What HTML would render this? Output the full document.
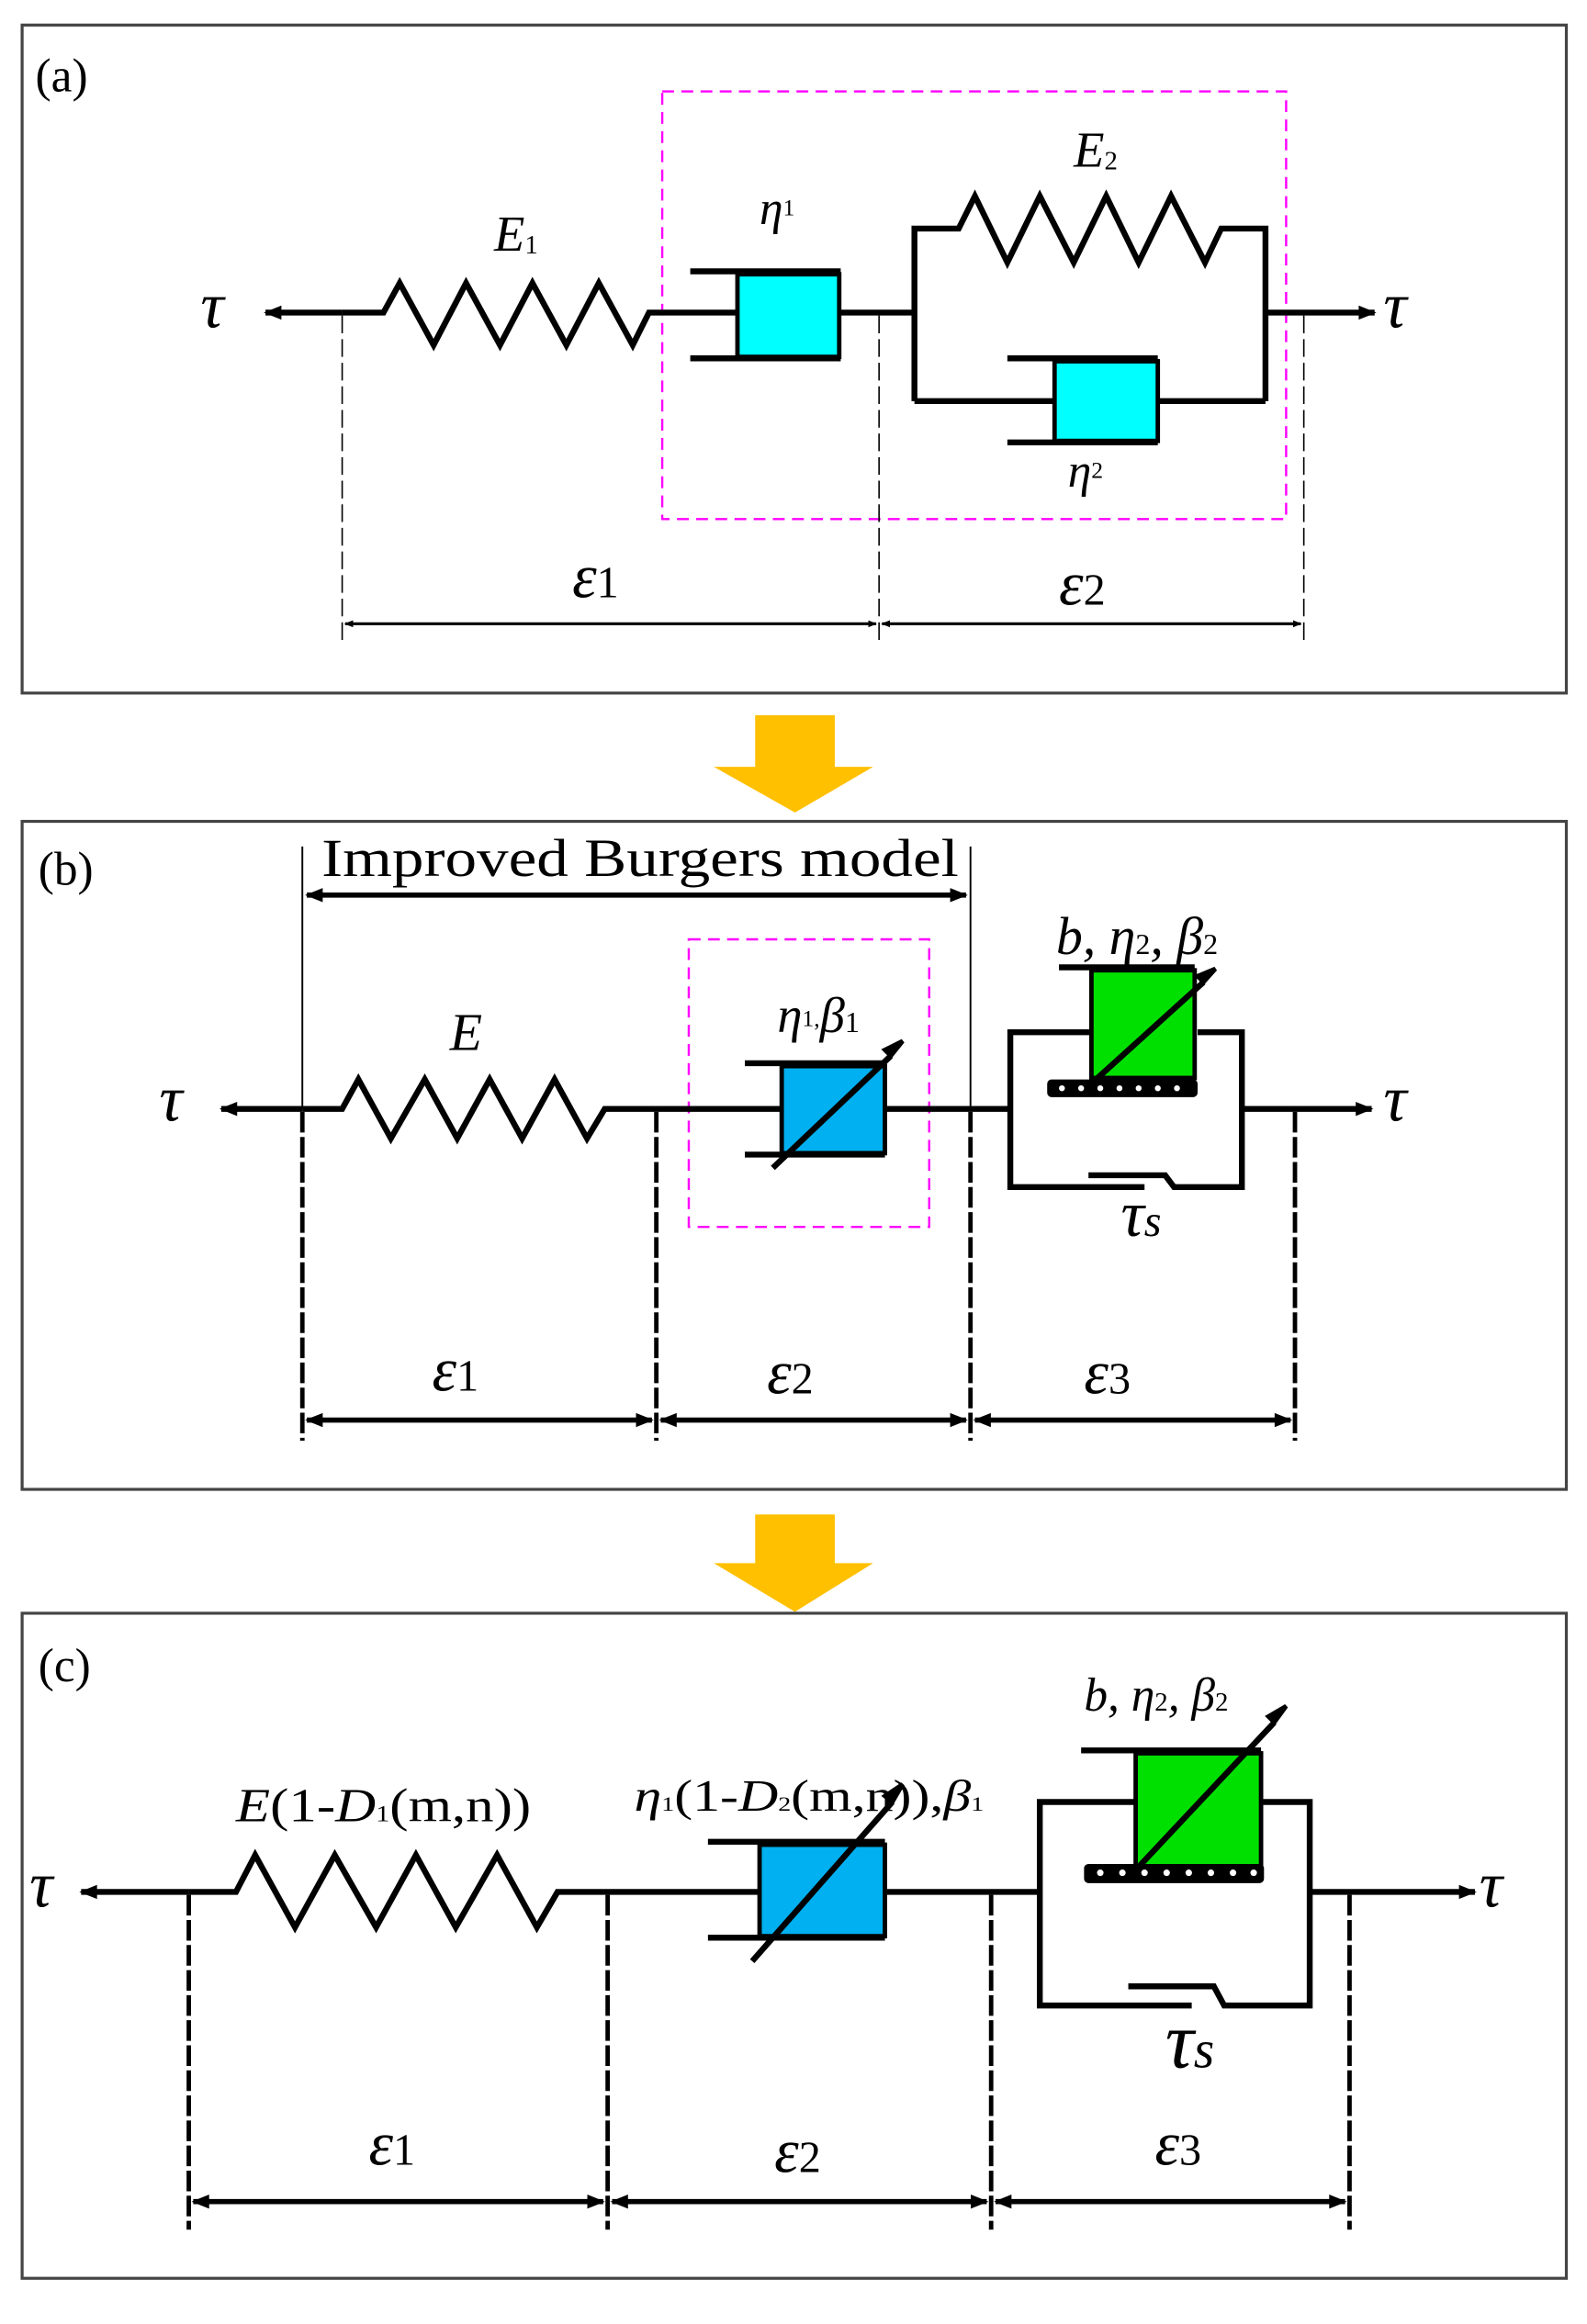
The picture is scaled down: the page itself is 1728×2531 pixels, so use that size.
<!DOCTYPE html>
<html><head><meta charset="utf-8"><style>
html,body{margin:0;padding:0;background:#fff;}
svg{display:block;font-family:"Liberation Serif",serif;}
svg text{font-family:"Liberation Serif",serif;fill:#000;}
.it{font-style:italic;}
</style></head><body>
<svg width="1728" height="2531" viewBox="0 0 1076 1576" preserveAspectRatio="none" xmlns="http://www.w3.org/2000/svg" font-family="Liberation Serif, serif">
<defs>
<marker id="ah" viewBox="0 0 10 10" refX="9" refY="5" markerWidth="6" markerHeight="6" orient="auto-start-reverse" markerUnits="userSpaceOnUse"><path d="M0,1 L10,5 L0,9 z" fill="#000"/></marker>
<marker id="ab" viewBox="0 0 10 10" refX="9" refY="5" markerWidth="16" markerHeight="12" orient="auto-start-reverse" markerUnits="userSpaceOnUse"><path d="M0,1 L10,5 L0,9 z" fill="#000"/></marker>
</defs>
<rect width="1076" height="1576" fill="#fff"/>

<!-- ============ PANEL A ============ -->
<rect x="15" y="17" width="1047" height="453" fill="none" stroke="#444" stroke-width="2"/>
<text x="24" y="62" font-size="32">(a)</text>
<rect x="449" y="62" width="423" height="290" fill="none" stroke="#f0f" stroke-width="1.5" stroke-dasharray="8,5"/>
<g stroke="#000" stroke-width="4" fill="none" stroke-linejoin="miter">
<line x1="232" y1="212" x2="180" y2="212" marker-end="url(#ab)"/>
<polyline points="232,212 260,212 271,192 294,234 316,192 339,234 361,192 384,234 406,192 429,234 440,212 500,212"/>
<line x1="468" y1="184" x2="570" y2="184"/>
<line x1="468" y1="243" x2="570" y2="243"/>
<line x1="570" y1="212" x2="620" y2="212"/>
<polyline points="620,272 620,155 650,155 661,133 683,178 705,133 728,178 750,133 772,178 794,133 817,178 828,155 858,155 858,272"/>
<line x1="620" y1="272" x2="715" y2="272"/>
<line x1="785" y1="272" x2="858" y2="272"/>
<line x1="683" y1="243" x2="785" y2="243"/>
<line x1="683" y1="300" x2="785" y2="300"/>
<line x1="858" y1="212" x2="932" y2="212" marker-end="url(#ab)"/>
</g>
<rect x="500" y="186" width="69" height="56" fill="#00ffff" stroke="#000" stroke-width="3"/>
<rect x="715" y="245" width="70" height="54" fill="#00ffff" stroke="#000" stroke-width="3"/>
<text x="136" y="222" font-size="44" class="it">τ</text>
<text x="938" y="222" font-size="44" class="it">τ</text>
<text x="335" y="170" font-size="34" class="it">E<tspan font-size="18" font-style="normal" dy="2">1</tspan></text>
<text x="515" y="152" font-size="32" class="it">η<tspan font-size="16" font-style="normal" dy="-6">1</tspan></text>
<text x="728" y="113" font-size="34" class="it">E<tspan font-size="18" font-style="normal" dy="2">2</tspan></text>
<text x="724" y="330" font-size="32" class="it">η<tspan font-size="16" font-style="normal" dy="-6">2</tspan></text>
<g stroke="#000" stroke-width="1" stroke-dasharray="12,4">
<line x1="232" y1="214" x2="232" y2="437"/>
<line x1="596" y1="214" x2="596" y2="437"/>
<line x1="884" y1="214" x2="884" y2="437"/>
</g>
<g stroke="#000" stroke-width="2">
<line x1="234" y1="423" x2="594" y2="423" marker-start="url(#ah)" marker-end="url(#ah)"/>
<line x1="598" y1="423" x2="882" y2="423" marker-start="url(#ah)" marker-end="url(#ah)"/>
</g>
<text x="388" y="405" font-size="42" class="it">ε<tspan font-size="30" font-style="normal">1</tspan></text>
<text x="718" y="410" font-size="42" class="it">ε<tspan font-size="30" font-style="normal">2</tspan></text>

<path d="M512,485 H566 V520 H592 L539,551 L484,520 H512 Z" fill="#ffc000"/>

<!-- ============ PANEL B ============ -->
<rect x="15" y="557" width="1047" height="453" fill="none" stroke="#444" stroke-width="2"/>
<text x="26" y="600" font-size="32">(b)</text>
<text x="218" y="594" font-size="36" textLength="432" lengthAdjust="spacingAndGlyphs">Improved Burgers model</text>
<g stroke="#000" stroke-width="1.2">
<line x1="205" y1="574" x2="205" y2="752"/>
<line x1="658" y1="574" x2="658" y2="752"/>
</g>
<line x1="208" y1="607" x2="655" y2="607" stroke="#000" stroke-width="3.5" marker-start="url(#ab)" marker-end="url(#ab)"/>
<rect x="467" y="637" width="163" height="195" fill="none" stroke="#f0f" stroke-width="1.5" stroke-dasharray="8,5"/>
<g stroke="#000" stroke-width="4" fill="none">
<line x1="205" y1="752" x2="150" y2="752" marker-end="url(#ab)"/>
<polyline points="205,752 232,752 243,732 265,772 288,732 310,772 332,732 354,772 376,732 398,772 410,752 530,752"/>
<line x1="505" y1="721" x2="600" y2="721"/>
<line x1="505" y1="783" x2="600" y2="783"/>
<line x1="600" y1="752" x2="685" y2="752"/>
<polyline points="740,700 685,700 685,805 776,805"/>
<polyline points="812,700 842,700 842,805 796,805 790,797 738,797"/>
<line x1="718" y1="656" x2="810" y2="656"/>
<line x1="842" y1="752" x2="930" y2="752" marker-end="url(#ab)"/>
</g>
<rect x="530" y="723" width="70" height="59" fill="#00b0f0" stroke="#000" stroke-width="3"/>
<line x1="524" y1="792" x2="604" y2="716" stroke="#000" stroke-width="4"/>
<path d="M604,716 L612,706 L600,712 Z" fill="#000" stroke="#000" stroke-width="3"/>
<rect x="740" y="658" width="70" height="73" fill="#00e000" stroke="#000" stroke-width="3"/>
<line x1="742" y1="733" x2="816" y2="666" stroke="#000" stroke-width="4"/>
<path d="M816,666 L824,657 L812,662 Z" fill="#000" stroke="#000" stroke-width="3"/>
<rect x="710" y="732" width="102" height="12" rx="3" fill="#000"/>
<g fill="#fff"><circle cx="720" cy="738" r="2"/><circle cx="733" cy="738" r="2"/><circle cx="746" cy="738" r="2"/><circle cx="759" cy="738" r="2"/><circle cx="772" cy="738" r="2"/><circle cx="785" cy="738" r="2"/><circle cx="798" cy="738" r="2"/></g>
<text x="108" y="760" font-size="44" class="it">τ</text>
<text x="938" y="760" font-size="44" class="it">τ</text>
<text x="305" y="712" font-size="36" class="it">E</text>
<text x="527" y="700" font-size="34" class="it">η<tspan font-size="16" font-style="normal" dy="-4">1,</tspan><tspan dy="4">β</tspan><tspan font-size="20" font-style="normal">1</tspan></text>
<text x="716" y="647" font-size="36" class="it">b, η<tspan font-size="20" font-style="normal">2</tspan>, β<tspan font-size="20" font-style="normal">2</tspan></text>
<text x="760" y="838" font-size="44" class="it">τ<tspan font-size="30">s</tspan></text>
<g stroke="#000" stroke-width="3" stroke-dasharray="14,3">
<line x1="205" y1="754" x2="205" y2="977"/>
<line x1="445" y1="754" x2="445" y2="977"/>
<line x1="658" y1="754" x2="658" y2="977"/>
<line x1="878" y1="754" x2="878" y2="977"/>
</g>
<g stroke="#000" stroke-width="3.5">
<line x1="208" y1="963" x2="442" y2="963" marker-start="url(#ab)" marker-end="url(#ab)"/>
<line x1="448" y1="963" x2="655" y2="963" marker-start="url(#ab)" marker-end="url(#ab)"/>
<line x1="661" y1="963" x2="875" y2="963" marker-start="url(#ab)" marker-end="url(#ab)"/>
</g>
<text x="293" y="943" font-size="42" class="it">ε<tspan font-size="30" font-style="normal">1</tspan></text>
<text x="520" y="945" font-size="42" class="it">ε<tspan font-size="30" font-style="normal">2</tspan></text>
<text x="735" y="945" font-size="42" class="it">ε<tspan font-size="30" font-style="normal">3</tspan></text>

<path d="M512,1027 H566 V1060 H592 L539,1093 L484,1060 H512 Z" fill="#ffc000"/>

<!-- ============ PANEL C ============ -->
<rect x="15" y="1094" width="1047" height="451" fill="none" stroke="#444" stroke-width="2"/>
<text x="26" y="1140" font-size="32">(c)</text>
<g stroke="#000" stroke-width="4" fill="none">
<line x1="128" y1="1283" x2="55" y2="1283" marker-end="url(#ab)"/>
<polyline points="128,1283 160,1283 173,1258 200,1307 227,1258 255,1307 282,1258 309,1307 337,1258 364,1307 378,1283 515,1283"/>
<line x1="480" y1="1249" x2="600" y2="1249"/>
<line x1="480" y1="1314" x2="600" y2="1314"/>
<line x1="600" y1="1283" x2="705" y2="1283"/>
<polyline points="770,1222 705,1222 705,1360 808,1360"/>
<polyline points="856,1222 888,1222 888,1360 830,1360 823,1347 765,1347"/>
<line x1="733" y1="1187" x2="855" y2="1187"/>
<line x1="888" y1="1283" x2="1000" y2="1283" marker-end="url(#ab)"/>
</g>
<rect x="515" y="1251" width="85" height="62" fill="#00b0f0" stroke="#000" stroke-width="3"/>
<line x1="510" y1="1330" x2="605" y2="1222" stroke="#000" stroke-width="4"/>
<path d="M605,1222 L612,1210 L600,1218 Z" fill="#000" stroke="#000" stroke-width="3"/>
<rect x="770" y="1189" width="85" height="77" fill="#00e000" stroke="#000" stroke-width="3"/>
<line x1="772" y1="1266" x2="864" y2="1168" stroke="#000" stroke-width="4"/>
<path d="M864,1168 L872,1157 L860,1164 Z" fill="#000" stroke="#000" stroke-width="3"/>
<rect x="735" y="1264" width="122" height="13" rx="3" fill="#000"/>
<g fill="#fff"><circle cx="746" cy="1270" r="2.2"/><circle cx="761" cy="1270" r="2.2"/><circle cx="776" cy="1270" r="2.2"/><circle cx="791" cy="1270" r="2.2"/><circle cx="806" cy="1270" r="2.2"/><circle cx="821" cy="1270" r="2.2"/><circle cx="836" cy="1270" r="2.2"/><circle cx="850" cy="1270" r="2.2"/></g>
<text x="20" y="1293" font-size="44" class="it">τ</text>
<text x="1003" y="1293" font-size="44" class="it">τ</text>
<text x="160" y="1235" font-size="32" textLength="200" lengthAdjust="spacingAndGlyphs"><tspan class="it">E</tspan>(1-<tspan class="it">D</tspan><tspan font-size="16">1</tspan>(m,n))</text>
<text x="430" y="1228" font-size="30" textLength="237" lengthAdjust="spacingAndGlyphs"><tspan class="it">η</tspan><tspan font-size="14">1</tspan>(1-<tspan class="it">D</tspan><tspan font-size="14">2</tspan>(m,n)),<tspan class="it">β</tspan><tspan font-size="14">1</tspan></text>
<text x="735" y="1160" font-size="32" class="it">b, η<tspan font-size="18" font-style="normal">2</tspan>, β<tspan font-size="18" font-style="normal">2</tspan></text>
<text x="790" y="1402" font-size="54" class="it">τ<tspan font-size="36">s</tspan></text>
<g stroke="#000" stroke-width="3" stroke-dasharray="14,3">
<line x1="128" y1="1285" x2="128" y2="1512"/>
<line x1="412" y1="1285" x2="412" y2="1512"/>
<line x1="672" y1="1285" x2="672" y2="1512"/>
<line x1="915" y1="1285" x2="915" y2="1512"/>
</g>
<g stroke="#000" stroke-width="3.5">
<line x1="131" y1="1493" x2="409" y2="1493" marker-start="url(#ab)" marker-end="url(#ab)"/>
<line x1="415" y1="1493" x2="669" y2="1493" marker-start="url(#ab)" marker-end="url(#ab)"/>
<line x1="675" y1="1493" x2="912" y2="1493" marker-start="url(#ab)" marker-end="url(#ab)"/>
</g>
<text x="250" y="1468" font-size="42" class="it">ε<tspan font-size="30" font-style="normal">1</tspan></text>
<text x="525" y="1473" font-size="42" class="it">ε<tspan font-size="30" font-style="normal">2</tspan></text>
<text x="783" y="1468" font-size="42" class="it">ε<tspan font-size="30" font-style="normal">3</tspan></text>
</svg>
</body></html>
